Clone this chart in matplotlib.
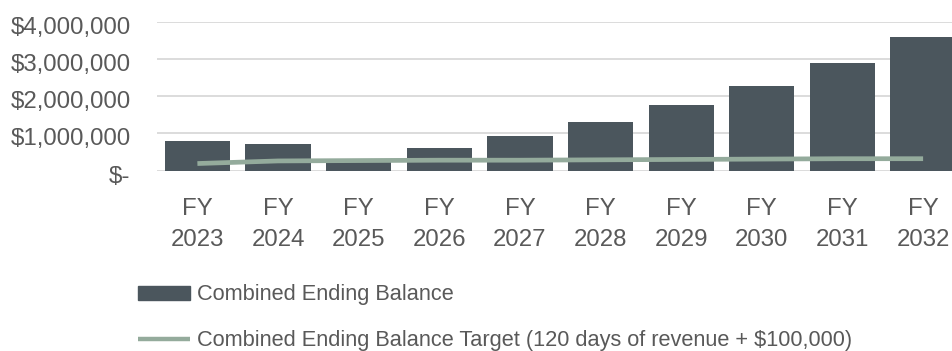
import numpy as np
import matplotlib.pyplot as plt
from matplotlib.patches import Patch
from matplotlib.lines import Line2D
from matplotlib.transforms import ScaledTranslation

plt.rcParams['font.family'] = ['Liberation Sans', 'DejaVu Sans']

years = ["FY\n2023", "FY\n2024", "FY\n2025", "FY\n2026", "FY\n2027",
         "FY\n2028", "FY\n2029", "FY\n2030", "FY\n2031", "FY\n2032"]
balance = [790000, 710000, 320000, 600000, 930000,
           1300000, 1760000, 2270000, 2890000, 3590000]
target = [190000, 260000, 270000, 280000, 280000,
          290000, 300000, 310000, 320000, 320000]

bar_color = "#4b565d"
line_color = "#94ab9c"
text_color = "#595959"

fig = plt.figure(figsize=(9.52, 3.51), dpi=100)
ax = fig.add_axes([0.165, 0.514, 0.847, 0.423])

x = np.arange(len(years))
ax.bar(x, balance, width=0.81, color=bar_color, zorder=2)
ax.plot(x, target, color=line_color, lw=3.4, solid_capstyle='butt', zorder=3)

ax.set_xlim(-0.5, len(years) - 0.5)
ax.set_ylim(0, 4000000)
yt = [0, 1000000, 2000000, 3000000, 4000000]
ax.set_yticks(yt)
ax.set_yticklabels(["$-" if v == 0 else "${:,.0f}".format(v) for v in yt])
ax.set_xticks(x)
ax.set_xticklabels(years, linespacing=1.52)

ax.grid(axis='y', color="#d9d9d9", lw=1.3, zorder=0)
ax.set_axisbelow(True)
for s in ax.spines.values():
    s.set_visible(False)
ax.tick_params(axis='both', length=0, labelsize=17.3, labelcolor=text_color)
ax.tick_params(axis='y', pad=19)
ax.tick_params(axis='x', pad=19.5)

# dollar labels sit a little below their gridlines
shift = ScaledTranslation(0, -3.5 / 100, fig.dpi_scale_trans)
for lab in ax.get_yticklabels():
    lab.set_transform(lab.get_transform() + shift)

handles = [Patch(color=bar_color),
           Line2D([0], [0], color=line_color, lw=3.2, solid_capstyle='butt')]
labels = ["Combined Ending Balance",
          "Combined Ending Balance Target (120 days of revenue + $100,000)"]
leg = fig.legend(handles, labels, loc='upper left', bbox_to_anchor=(0.145, 0.19),
                 frameon=False, fontsize=15.7, labelcolor=text_color,
                 handlelength=2.38, handleheight=0.6, handletextpad=0.32,
                 labelspacing=1.14, borderaxespad=0, borderpad=0)

fig.savefig("out.png", dpi=100)
